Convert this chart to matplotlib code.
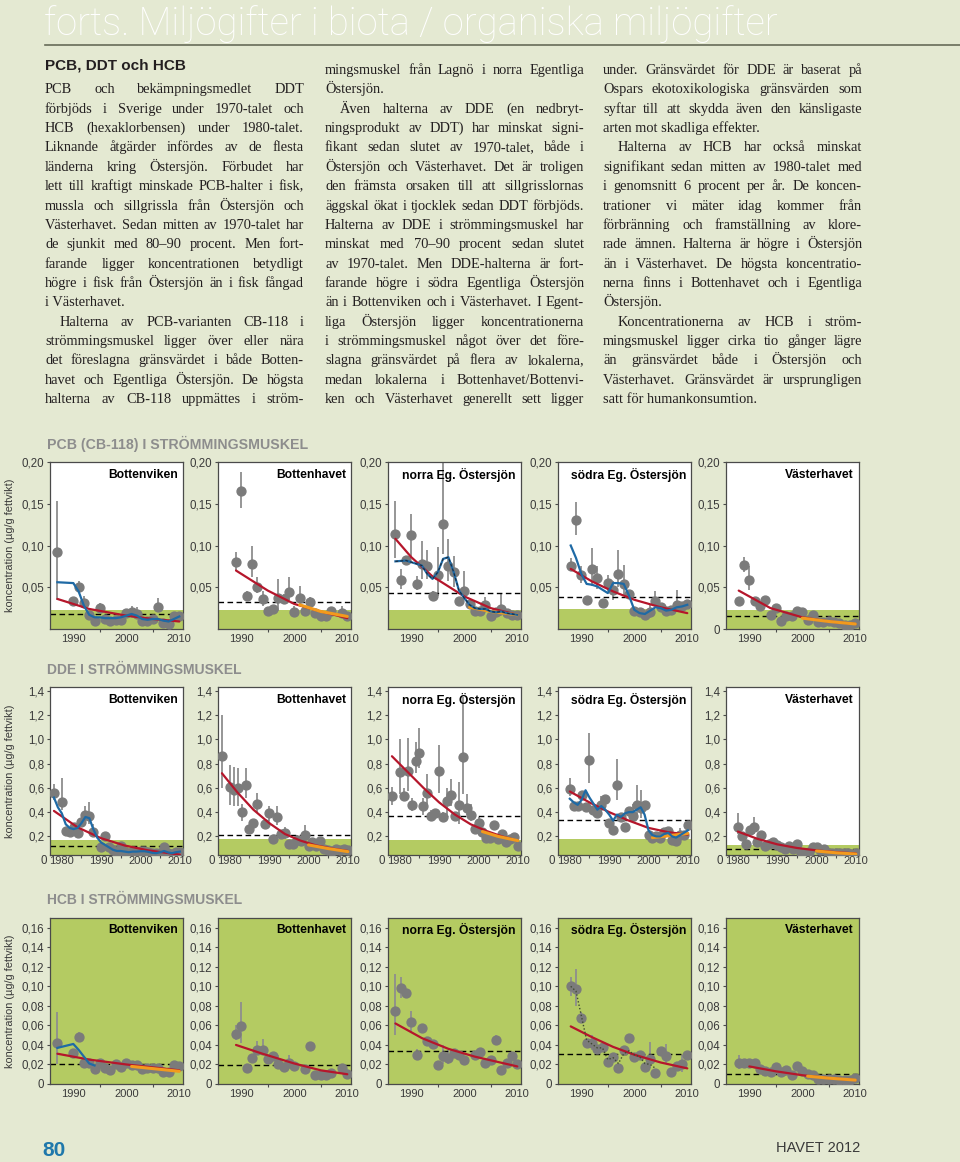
import matplotlib
matplotlib.use("Agg")
import matplotlib.pyplot as plt
import matplotlib.transforms as mtransforms
from matplotlib import font_manager
from matplotlib.lines import Line2D

# ================= data: PCB (CB-118) i strömmingsmuskel =================
pcb_bv_years = [1987, 1990, 1991, 1992, 1993, 1994, 1995, 1996, 1997, 1998, 1999,
                2000, 2001, 2002, 2003, 2004, 2005, 2006, 2007, 2008, 2009, 2010]
pcb_bv_vals = [0.092, 0.034, 0.050, 0.031, 0.017, 0.009, 0.025, 0.012, 0.010, 0.011, 0.011,
               0.019, 0.020, 0.018, 0.010, 0.009, 0.012, 0.026, 0.007, 0.006, 0.015, 0.015]
pcb_bv_err = [(1987, 0.035, 0.153), (1991, 0.044, 0.057), (1992, 0.026, 0.040),
              (1995, 0.020, 0.031), (2001, 0.016, 0.028), (2002, 0.014, 0.026), (2006, 0.021, 0.037)]
pcb_bv_red = [(1987, 0.036), (1993, 0.024), (2000, 0.016), (2005, 0.012), (2010, 0.009)]
pcb_bv_blue = [(1987, 0.056), (1990, 0.055), (1991, 0.045), (1992, 0.028), (1993, 0.017),
               (1994, 0.014), (1995, 0.014), (1996, 0.013), (1997, 0.013), (1998, 0.013),
               (1999, 0.014), (2000, 0.016), (2001, 0.018), (2002, 0.016), (2003, 0.012),
               (2004, 0.011), (2005, 0.012), (2006, 0.012), (2007, 0.010), (2008, 0.009),
               (2009, 0.012), (2010, 0.015)]
pcb_bv_dash, pcb_bv_green = 0.018, 0.023

pcb_bh_years = [1989, 1990, 1991, 1992, 1993, 1994, 1995, 1996, 1997, 1998, 1999,
                2000, 2001, 2002, 2003, 2004, 2005, 2006, 2007, 2009, 2010]
pcb_bh_vals = [0.080, 0.165, 0.039, 0.078, 0.050, 0.036, 0.022, 0.024, 0.037, 0.036, 0.044,
               0.020, 0.037, 0.022, 0.032, 0.019, 0.016, 0.015, 0.022, 0.019, 0.015]
pcb_bh_err = [(1989, 0.070, 0.092), (1990, 0.145, 0.188), (1991, 0.034, 0.046), (1992, 0.062, 0.100),
              (1993, 0.043, 0.062), (1994, 0.028, 0.045), (1997, 0.022, 0.060), (1998, 0.030, 0.042),
              (1999, 0.035, 0.062), (2000, 0.014, 0.028), (2001, 0.030, 0.052), (2003, 0.027, 0.038),
              (2009, 0.015, 0.027)]
pcb_bh_red = [(1989, 0.070), (1995, 0.046), (2000, 0.030), (2005, 0.021), (2010, 0.013)]
pcb_bh_orange = [(2001, 0.029), (2005, 0.021), (2010, 0.015)]
pcb_bh_dash, pcb_bh_green = 0.032, 0.023

pcb_ne_years = list(range(1987, 2011))
pcb_ne_vals = [0.114, 0.059, 0.083, 0.112, 0.054, 0.078, 0.075, 0.039, 0.065, 0.126, 0.076, 0.068,
               0.034, 0.046, 0.030, 0.022, 0.022, 0.029, 0.016, 0.020, 0.024, 0.019, 0.017, 0.017]
pcb_ne_err = [(1987, 0.085, 0.153), (1988, 0.048, 0.072), (1990, 0.085, 0.138), (1991, 0.047, 0.063),
              (1992, 0.060, 0.105), (1993, 0.060, 0.095), (1994, 0.035, 0.045), (1995, 0.040, 0.098),
              (1996, 0.090, 0.210), (1997, 0.058, 0.108), (1998, 0.050, 0.088), (2000, 0.035, 0.070),
              (2004, 0.022, 0.038), (2007, 0.015, 0.042)]
pcb_ne_red = [(1987, 0.108), (1990, 0.086), (1994, 0.063), (2000, 0.039), (2005, 0.025), (2010, 0.017)]
pcb_ne_orange = [(2001, 0.026), (2005, 0.021), (2010, 0.017)]
pcb_ne_blue = [(1987, 0.081), (1989, 0.082), (1991, 0.078), (1992, 0.076), (1993, 0.066), (1994, 0.060),
               (1995, 0.068), (1996, 0.084), (1997, 0.086), (1998, 0.068), (1999, 0.046), (2000, 0.037),
               (2001, 0.029), (2002, 0.025), (2003, 0.024), (2004, 0.024), (2005, 0.021), (2006, 0.020),
               (2007, 0.021), (2008, 0.019), (2009, 0.018), (2010, 0.017)]
pcb_ne_dash, pcb_ne_green = 0.043, 0.023

pcb_se_years = list(range(1988, 2011))
pcb_se_vals = [0.076, 0.131, 0.065, 0.035, 0.072, 0.061, 0.031, 0.055, 0.047, 0.066, 0.054, 0.042,
               0.021, 0.020, 0.017, 0.020, 0.034, 0.026, 0.022, 0.023, 0.029, 0.027, 0.030]
pcb_se_err = [(1988, 0.070, 0.085), (1989, 0.113, 0.152), (1990, 0.055, 0.075), (1992, 0.052, 0.097),
              (1993, 0.048, 0.076), (1995, 0.045, 0.065), (1996, 0.035, 0.058), (1997, 0.050, 0.095),
              (1998, 0.040, 0.077), (2003, 0.013, 0.030), (2004, 0.027, 0.045), (2008, 0.020, 0.047)]
pcb_se_red = [(1988, 0.072), (1992, 0.057), (1996, 0.045), (2000, 0.035), (2005, 0.026), (2010, 0.019)]
pcb_se_blue = [(1988, 0.100), (1989, 0.085), (1990, 0.066), (1991, 0.054), (1992, 0.053), (1993, 0.051),
               (1994, 0.047), (1995, 0.043), (1996, 0.055), (1997, 0.055), (1998, 0.054), (1999, 0.040),
               (2000, 0.023), (2001, 0.019), (2002, 0.018), (2003, 0.022), (2004, 0.026), (2005, 0.025),
               (2006, 0.022), (2007, 0.023), (2008, 0.026), (2009, 0.027), (2010, 0.029)]
pcb_se_dash, pcb_se_green = 0.038, 0.024

pcb_vh_years = list(range(1988, 2011))
pcb_vh_vals = [0.033, 0.077, 0.059, 0.034, 0.028, 0.035, 0.017, 0.025, 0.010, 0.015, 0.015, 0.022,
               0.020, 0.011, 0.017, 0.008, 0.008, 0.009, 0.008, 0.007, 0.005, 0.005, 0.007]
pcb_vh_err = [(1988, 0.029, 0.037), (1989, 0.068, 0.086), (1990, 0.047, 0.075)]
pcb_vh_red = [(1988, 0.046), (1994, 0.025), (2000, 0.014), (2005, 0.009), (2010, 0.006)]
pcb_vh_orange = [(2000, 0.013), (2005, 0.009), (2010, 0.006)]
pcb_vh_dash, pcb_vh_green = 0.015, 0.023

# ================= data: DDE i strömmingsmuskel =================
dde_bv_years = [1978, 1980, 1981, 1982, 1983, 1984, 1985, 1986, 1987, 1988, 1990, 1991, 1992, 1993,
                1994, 1995, 1996, 1997, 1998, 1999, 2000, 2001, 2002, 2003, 2004, 2005, 2006, 2007,
                2008, 2009, 2010]
dde_bv_vals = [0.56, 0.48, 0.245, 0.24, 0.28, 0.23, 0.315, 0.38, 0.37, 0.24, 0.11, 0.20, 0.115, 0.09,
               0.06, 0.12, 0.075, 0.065, 0.08, 0.075, 0.08, 0.08, 0.075, 0.06, 0.06, 0.065, 0.11, 0.06,
               0.055, 0.075, 0.075]
dde_bv_err = [(1978, 0.50, 0.63), (1980, 0.42, 0.68), (1986, 0.33, 0.45), (1987, 0.30, 0.48),
              (1988, 0.21, 0.30)]
dde_bv_red = [(1978, 0.41), (1984, 0.275), (1990, 0.185), (1996, 0.125), (2002, 0.085), (2010, 0.05)]
dde_bv_blue = [(1978, 0.52), (1979, 0.44), (1980, 0.39), (1981, 0.30), (1982, 0.27), (1983, 0.26),
               (1984, 0.27), (1985, 0.31), (1986, 0.36), (1987, 0.35), (1988, 0.26), (1989, 0.19),
               (1990, 0.15), (1991, 0.13), (1992, 0.11), (1993, 0.09), (1994, 0.08), (1995, 0.08),
               (1996, 0.075), (1997, 0.07), (1998, 0.075), (1999, 0.075), (2000, 0.078), (2001, 0.078),
               (2002, 0.073), (2003, 0.065), (2004, 0.062), (2005, 0.07), (2006, 0.08), (2007, 0.068),
               (2008, 0.062), (2009, 0.07), (2010, 0.075)]
dde_bv_dash, dde_bv_green = 0.12, 0.17

dde_bh_years = [1978, 1980, 1981, 1982, 1983, 1984, 1985, 1986, 1987, 1989, 1990, 1991, 1992, 1993,
                1994, 1995, 1996, 1997, 1998, 1999, 2000, 2001, 2002, 2003, 2004, 2005, 2006, 2007,
                2008, 2009, 2010]
dde_bh_vals = [0.865, 0.61, 0.585, 0.595, 0.40, 0.62, 0.26, 0.31, 0.47, 0.30, 0.39, 0.18, 0.36, 0.22,
               0.225, 0.14, 0.135, 0.17, 0.16, 0.215, 0.125, 0.155, 0.12, 0.165, 0.10, 0.09, 0.08, 0.10,
               0.085, 0.10, 0.085]
dde_bh_err = [(1978, 0.60, 1.20), (1980, 0.46, 0.79), (1981, 0.45, 0.77), (1982, 0.45, 0.76),
              (1983, 0.33, 0.47), (1984, 0.52, 0.76), (1987, 0.40, 0.56), (1990, 0.33, 0.45),
              (1992, 0.29, 0.45), (1994, 0.18, 0.28), (1997, 0.13, 0.21), (1999, 0.17, 0.29)]
dde_bh_red = [(1978, 0.72), (1982, 0.56), (1986, 0.42), (1990, 0.31), (1994, 0.22), (1998, 0.165),
              (2002, 0.125), (2006, 0.10), (2010, 0.08)]
dde_bh_orange = [(2000, 0.13), (2005, 0.10), (2010, 0.075)]
dde_bh_dash, dde_bh_green = 0.21, 0.18

dde_ne_years = [1978] + list(range(1980, 2011))
dde_ne_vals = [0.53, 0.73, 0.53, 0.74, 0.455, 0.82, 0.885, 0.45, 0.56, 0.37, 0.39, 0.74, 0.36, 0.49,
               0.545, 0.37, 0.455, 0.85, 0.435, 0.38, 0.265, 0.31, 0.24, 0.185, 0.19, 0.29, 0.18, 0.22,
               0.15, 0.18, 0.195, 0.12]
dde_ne_err = [(1978, 0.46, 0.61), (1980, 0.55, 1.00), (1981, 0.49, 0.60), (1982, 0.57, 1.01),
              (1983, 0.41, 0.52), (1984, 0.72, 0.98), (1985, 0.76, 1.09), (1986, 0.38, 0.52),
              (1987, 0.46, 0.71), (1988, 0.33, 0.42), (1990, 0.56, 0.95), (1991, 0.33, 0.40),
              (1992, 0.38, 0.60), (1993, 0.45, 0.67), (1995, 0.30, 0.65), (1996, 0.55, 1.35),
              (1997, 0.38, 0.55), (1998, 0.33, 0.47), (1999, 0.23, 0.30), (2000, 0.25, 0.36),
              (2004, 0.25, 0.32)]
dde_ne_red = [(1978, 0.86), (1982, 0.73), (1986, 0.60), (1990, 0.48), (1994, 0.38), (1998, 0.30),
              (2002, 0.245), (2006, 0.20), (2010, 0.165)]
dde_ne_orange = [(2001, 0.24), (2005, 0.20), (2010, 0.165)]
dde_ne_dash, dde_ne_green = 0.37, 0.17

dde_se_years = list(range(1980, 2011))
dde_se_vals = [0.59, 0.45, 0.45, 0.54, 0.445, 0.83, 0.42, 0.395, 0.46, 0.51, 0.31, 0.25, 0.625, 0.36,
               0.28, 0.41, 0.37, 0.455, 0.43, 0.455, 0.215, 0.19, 0.20, 0.185, 0.24, 0.245, 0.17, 0.16,
               0.21, 0.215, 0.295]
dde_se_err = [(1980, 0.53, 0.68), (1985, 0.64, 1.05), (1988, 0.38, 0.53), (1992, 0.50, 0.84),
              (1996, 0.33, 0.47), (1997, 0.38, 0.62), (1998, 0.35, 0.58), (2001, 0.17, 0.23),
              (2003, 0.15, 0.24), (2008, 0.16, 0.27)]
dde_se_red = [(1980, 0.57), (1985, 0.48), (1990, 0.40), (1995, 0.33), (2000, 0.27), (2005, 0.235),
              (2010, 0.215)]
dde_se_orange = [(2001, 0.19), (2005, 0.205), (2010, 0.225)]
dde_se_blue = [(1980, 0.51), (1981, 0.48), (1982, 0.46), (1983, 0.50), (1984, 0.58), (1985, 0.52),
               (1986, 0.47), (1987, 0.42), (1988, 0.45), (1989, 0.42), (1990, 0.38), (1991, 0.33),
               (1992, 0.38), (1993, 0.36), (1994, 0.39), (1995, 0.40), (1996, 0.40), (1997, 0.42),
               (1998, 0.44), (1999, 0.38), (2000, 0.25), (2001, 0.21), (2002, 0.20), (2003, 0.20),
               (2004, 0.22), (2005, 0.23), (2006, 0.20), (2007, 0.19), (2008, 0.21), (2009, 0.23),
               (2010, 0.25)]
dde_se_dash, dde_se_green = 0.335, 0.18

dde_vh_years = list(range(1980, 2011))
dde_vh_vals = [0.275, 0.20, 0.14, 0.25, 0.28, 0.155, 0.21, 0.125, 0.135, 0.15, 0.13, 0.115, 0.10, 0.12,
               0.10, 0.14, 0.065, 0.065, 0.075, 0.115, 0.11, 0.085, 0.095, 0.065, 0.06, 0.06, 0.06,
               0.065, 0.06, 0.055, 0.06]
dde_vh_err = [(1980, 0.22, 0.39), (1984, 0.22, 0.36), (1986, 0.17, 0.24)]
dde_vh_red = [(1980, 0.24), (1985, 0.18), (1990, 0.135), (1995, 0.105), (2000, 0.085), (2005, 0.07),
              (2010, 0.06)]
dde_vh_orange = [(2000, 0.08), (2005, 0.065), (2010, 0.055)]
dde_vh_dash, dde_vh_green = 0.10, 0.13

# ================= data: HCB i strömmingsmuskel =================
hcb_bv_years = [1987] + list(range(1990, 2011))
hcb_bv_vals = [0.042, 0.032, 0.048, 0.022, 0.021, 0.015, 0.021, 0.016, 0.014, 0.020, 0.017, 0.022,
               0.019, 0.019, 0.015, 0.016, 0.016, 0.016, 0.012, 0.012, 0.019, 0.018]
hcb_bv_err = [(1987, 0.020, 0.074), (1991, 0.043, 0.053)]
hcb_bv_red = [(1987, 0.031), (1993, 0.025), (2000, 0.020), (2005, 0.017), (2010, 0.014)]
hcb_bv_orange = [(2001, 0.018), (2010, 0.013)]
hcb_bv_blue = [(1987, 0.037), (1990, 0.041), (1991, 0.035), (1992, 0.028), (1993, 0.021), (1994, 0.019)]
hcb_bv_dash = 0.0207

hcb_bh_years = [1989, 1990, 1991, 1992, 1993, 1994, 1995, 1996, 1997, 1998, 1999, 2000, 2002, 2003,
                2004, 2005, 2006, 2007, 2009, 2010]
hcb_bh_vals = [0.051, 0.059, 0.016, 0.027, 0.035, 0.035, 0.026, 0.029, 0.020, 0.017, 0.022, 0.018,
               0.015, 0.039, 0.009, 0.009, 0.009, 0.011, 0.016, 0.010]
hcb_bh_err = [(1989, 0.045, 0.060), (1990, 0.042, 0.084), (1993, 0.030, 0.044), (1994, 0.030, 0.046),
              (1997, 0.017, 0.030), (1999, 0.018, 0.030)]
hcb_bh_red = [(1989, 0.040), (1994, 0.031), (2000, 0.021), (2005, 0.014), (2010, 0.010)]
hcb_bh_dash = 0.0198

hcb_ne_years = list(range(1987, 2001)) + list(range(2002, 2011))
hcb_ne_vals = [0.075, 0.098, 0.093, 0.064, 0.030, 0.057, 0.044, 0.041, 0.019, 0.029, 0.027, 0.032,
               0.030, 0.025, 0.030, 0.033, 0.021, 0.025, 0.045, 0.014, 0.022, 0.029, 0.020]
hcb_ne_err = [(1987, 0.050, 0.113), (1988, 0.088, 0.110), (1990, 0.053, 0.075), (1991, 0.025, 0.036),
              (1996, 0.020, 0.040), (1997, 0.020, 0.035), (2006, 0.040, 0.050)]
hcb_ne_red = [(1987, 0.062), (1992, 0.047), (1997, 0.036), (2002, 0.028), (2006, 0.023), (2010, 0.018)]
hcb_ne_dash = 0.034

hcb_se_years = list(range(1988, 2011))
hcb_se_vals = [0.100, 0.097, 0.068, 0.042, 0.042, 0.036, 0.038, 0.023, 0.028, 0.016, 0.035, 0.047,
               0.028, 0.030, 0.017, 0.026, 0.011, 0.034, 0.029, 0.012, 0.018, 0.020, 0.030]
hcb_se_err = [(1988, 0.090, 0.110), (1989, 0.080, 0.118), (1990, 0.063, 0.074), (1992, 0.035, 0.050),
              (2003, 0.016, 0.043), (2006, 0.020, 0.041), (2009, 0.012, 0.030)]
hcb_se_red = [(1988, 0.059), (1992, 0.048), (1996, 0.038), (2000, 0.030), (2005, 0.022), (2010, 0.016)]
hcb_se_dotted = [(1988, 0.100), (1989, 0.095), (1990, 0.070), (1991, 0.045), (1992, 0.041), (1993, 0.037),
                 (1994, 0.037), (1995, 0.025), (1996, 0.027), (1997, 0.021), (1998, 0.031), (1999, 0.034),
                 (2000, 0.030), (2001, 0.028), (2002, 0.021), (2003, 0.020), (2004, 0.016)]
hcb_se_dash = 0.031

hcb_vh_years = list(range(1988, 2011))
hcb_vh_vals = [0.021, 0.022, 0.022, 0.022, 0.015, 0.013, 0.012, 0.017, 0.012, 0.014, 0.009, 0.018,
               0.013, 0.010, 0.009, 0.005, 0.005, 0.005, 0.005, 0.004, 0.004, 0.004, 0.006]
hcb_vh_err = [(1988, 0.015, 0.030)]
hcb_vh_red = [(1990, 0.018), (1995, 0.013), (2000, 0.009), (2005, 0.006), (2010, 0.004)]
hcb_vh_orange = [(2001, 0.008), (2005, 0.006), (2010, 0.004)]
hcb_vh_dash = 0.010

STATIONS = ["Bottenviken", "Bottenhavet", "norra Eg. Östersjön", "södra Eg. Östersjön", "Västerhavet"]
SECTION_TITLES = ["PCB (CB-118) I STRÖMMINGSMUSKEL", "DDE I STRÖMMINGSMUSKEL", "HCB I STRÖMMINGSMUSKEL"]
YLABEL = "koncentration (µg/g fettvikt)"
TITLE = "forts. Miljögifter i biota / organiska miljögifter"

# ================= brödtext (j = marginaljusterad, r = vänster, i = indrag) =================
HEAD1 = "PCB, DDT och HCB"
col1_lines = [
    ("PCB och bekämpningsmedlet DDT", "j"),
    ("förbjöds i Sverige under 1970-talet och", "j"),
    ("HCB (hexaklorbensen) under 1980-talet.", "j"),
    ("Liknande åtgärder infördes av de flesta", "j"),
    ("länderna kring Östersjön. Förbudet har", "j"),
    ("lett till kraftigt minskade PCB-halter i fisk,", "j"),
    ("mussla och sillgrissla från Östersjön och", "j"),
    ("Västerhavet. Sedan mitten av 1970-talet har", "j"),
    ("de sjunkit med 80–90 procent. Men fort-", "j"),
    ("farande ligger koncentrationen betydligt", "j"),
    ("högre i fisk från Östersjön än i fisk fångad", "j"),
    ("i Västerhavet.", "r"),
    ("Halterna av PCB-varianten CB-118 i", "i"),
    ("strömmingsmuskel ligger över eller nära", "j"),
    ("det föreslagna gränsvärdet i både Botten-", "j"),
    ("havet och Egentliga Östersjön. De högsta", "j"),
    ("halterna av CB-118 uppmättes i ström-", "j"),
]
col2_lines = [
    ("mingsmuskel från Lagnö i norra Egentliga", "j"),
    ("Östersjön.", "r"),
    ("Även halterna av DDE (en nedbryt-", "i"),
    ("ningsprodukt av DDT) har minskat signi-", "j"),
    ("fikant sedan slutet av 1970-talet, både i", "j"),
    ("Östersjön och Västerhavet. Det är troligen", "j"),
    ("den främsta orsaken till att sillgrisslornas", "j"),
    ("äggskal ökat i tjocklek sedan DDT förbjöds.", "j"),
    ("Halterna av DDE i strömmingsmuskel har", "j"),
    ("minskat med 70–90 procent sedan slutet", "j"),
    ("av 1970-talet. Men DDE-halterna är fort-", "j"),
    ("farande högre i södra Egentliga Östersjön", "j"),
    ("än i Bottenviken och i Västerhavet. I Egent-", "j"),
    ("liga Östersjön ligger koncentrationerna", "j"),
    ("i strömmingsmuskel något över det före-", "j"),
    ("slagna gränsvärdet på flera av lokalerna,", "j"),
    ("medan lokalerna i Bottenhavet/Bottenvi-", "j"),
    ("ken och Västerhavet generellt sett ligger", "j"),
]
col3_lines = [
    ("under. Gränsvärdet för DDE är baserat på", "j"),
    ("Ospars ekotoxikologiska gränsvärden som", "j"),
    ("syftar till att skydda även den känsligaste", "j"),
    ("arten mot skadliga effekter.", "r"),
    ("Halterna av HCB har också minskat", "i"),
    ("signifikant sedan mitten av 1980-talet med", "j"),
    ("i genomsnitt 6 procent per år. De koncen-", "j"),
    ("trationer vi mäter idag kommer från", "j"),
    ("förbränning och framställning av klore-", "j"),
    ("rade ämnen. Halterna är högre i Östersjön", "j"),
    ("än i Västerhavet. De högsta koncentratio-", "j"),
    ("nerna finns i Bottenhavet och i Egentliga", "j"),
    ("Östersjön.", "r"),
    ("Koncentrationerna av HCB i ström-", "i"),
    ("mingsmuskel ligger cirka tio gånger lägre", "j"),
    ("än gränsvärdet både i Östersjön och", "j"),
    ("Västerhavet. Gränsvärdet är ursprungligen", "j"),
    ("satt för humankonsumtion.", "r"),
]

# ================= stil =================
W, H = 960, 1162
BG = "#e4e9d2"
GREEN = "#b4cb62"
INK = "#231f20"
TICK = "#3a3a3a"
SPINE = "#4a4a4a"
PT = "#7b7b7b"
ERR = "#8e8e8e"
RED = "#b5162b"
BLUE = "#1f6aa5"
ORANGE = "#f29a1d"

names = {f.name for f in font_manager.fontManager.ttflist}
SANS = "Liberation Sans" if "Liberation Sans" in names else "DejaVu Sans"
SERIF = "Liberation Serif" if "Liberation Serif" in names else "DejaVu Serif"
LIGHT = "Roboto" if "Roboto" in names else SANS

fig = plt.figure(figsize=(W / 100, H / 100), dpi=100, facecolor=BG)
renderer = fig.canvas.get_renderer()


def px(x, y):
    return x / W, 1 - y / H


def text_width(s, **kw):
    t = fig.text(0, 0, s, **kw)
    w = t.get_window_extent(renderer).width
    t.remove()
    return w


def fit_size(s, target, **kw):
    return 10 * target / text_width(s, fontsize=10, **kw)


# ---- sidhuvud ----
tsize = fit_size(TITLE, 735, family=LIGHT, weight="light")
fig.text(*px(44, 35), TITLE, fontsize=tsize, family=LIGHT, weight="light", color="white", va="baseline")
fig.add_artist(Line2D([45 / W, 1.0], [1 - 45 / H] * 2, color="#676b58", lw=1.2))

# ---- brödtext ----
COL_X = [45, 325, 603]
COL_W = 259
INDENT = 15
MIN_SPACE = 2.6  # px vid 10 pt


def words_width(s, size):
    return sum(text_width(w, fontsize=size, family=SERIF) for w in s.split(" "))


# storlek för varje justerad rad om mellanrummen vore smala; brödtexten får medianen,
# rader som inte ryms krymps lite
line_fit = {}
for col in (col1_lines, col2_lines, col3_lines):
    for s, m in col:
        if m == "r":
            continue
        avail = COL_W - (INDENT if m == "i" else 0)
        need = words_width(s, 10) + MIN_SPACE * (len(s.split(" ")) - 1)
        line_fit[s] = 10 * avail / need
fits = sorted(line_fit.values())
BODY_SIZE = min(fits[len(fits) // 3], 10.4)


def body_line(x0, yc, s, mode):
    size = min(BODY_SIZE, line_fit.get(s, BODY_SIZE))
    kw = dict(fontsize=size, family=SERIF, color=INK, va="baseline", ha="left")
    y = yc + 4
    width = COL_W
    if mode == "i":
        x0 += INDENT
        width -= INDENT
    if mode == "r":
        fig.text(*px(x0, y), s, **kw)
        return
    words = s.split(" ")
    ws = [text_width(w, **kw) for w in words]
    gap = (width - sum(ws)) / (len(words) - 1)
    x = x0
    for w, wpx in zip(words, ws):
        fig.text(*px(x, y), w, **kw)
        x += wpx + gap


hsize = fit_size(HEAD1, 140, family=SANS, weight="bold")
fig.text(*px(45, 66), HEAD1, fontsize=hsize, family=SANS, weight="bold", color=INK, va="center")
for k, (s, m) in enumerate(col1_lines):
    body_line(COL_X[0], 89.4 + 19.36 * k, s, m)
for k, (s, m) in enumerate(col2_lines):
    body_line(COL_X[1], 70 + 19.36 * k, s, m)
for k, (s, m) in enumerate(col3_lines):
    body_line(COL_X[2], 70 + 19.36 * k, s, m)

# ---- diagram ----
LEFTS = [50, 218, 388, 558, 726]
PW = 133


def panel(years, vals, err, red, dash, green=None, orange=None, blue=None, blue_dashed=False,
          dotted=None, zero=False):
    return dict(years=years, vals=vals, err=err, red=red, dash=dash, green=green, orange=orange,
                blue=blue, blue_dashed=blue_dashed, dotted=dotted, zero=zero)


ROWS = [
    dict(top=462, bottom=629, xlim=(1985.6, 2010.7), ylim=(0, 0.20), xticks=[1990, 2000, 2010],
         yticks=[0.05, 0.10, 0.15, 0.20], fmt="{:.2f}", full_green=False, xpad=3.4, head_y=444,
         head_w=258, panels=[
            panel(pcb_bv_years, pcb_bv_vals, pcb_bv_err, pcb_bv_red, pcb_bv_dash, pcb_bv_green, blue=pcb_bv_blue),
            panel(pcb_bh_years, pcb_bh_vals, pcb_bh_err, pcb_bh_red, pcb_bh_dash, pcb_bh_green, orange=pcb_bh_orange),
            panel(pcb_ne_years, pcb_ne_vals, pcb_ne_err, pcb_ne_red, pcb_ne_dash, pcb_ne_green,
                  orange=pcb_ne_orange, blue=pcb_ne_blue, blue_dashed=True),
            panel(pcb_se_years, pcb_se_vals, pcb_se_err, pcb_se_red, pcb_se_dash, pcb_se_green, blue=pcb_se_blue),
            panel(pcb_vh_years, pcb_vh_vals, pcb_vh_err, pcb_vh_red, pcb_vh_dash, pcb_vh_green,
                  orange=pcb_vh_orange, zero=True),
         ]),
    dict(top=687, bottom=855, xlim=(1977.0, 2010.8), ylim=(0.047, 1.43), xticks=[1980, 1990, 2000, 2010],
         yticks=[0.2, 0.4, 0.6, 0.8, 1.0, 1.2, 1.4], fmt="{:.1f}", full_green=False, xpad=1.0, head_y=670,
         head_w=195, zero_text=True, panels=[
            panel(dde_bv_years, dde_bv_vals, dde_bv_err, dde_bv_red, dde_bv_dash, dde_bv_green, blue=dde_bv_blue),
            panel(dde_bh_years, dde_bh_vals, dde_bh_err, dde_bh_red, dde_bh_dash, dde_bh_green, orange=dde_bh_orange),
            panel(dde_ne_years, dde_ne_vals, dde_ne_err, dde_ne_red, dde_ne_dash, dde_ne_green, orange=dde_ne_orange),
            panel(dde_se_years, dde_se_vals, dde_se_err, dde_se_red, dde_se_dash, dde_se_green,
                  orange=dde_se_orange, blue=dde_se_blue),
            panel(dde_vh_years, dde_vh_vals, dde_vh_err, dde_vh_red, dde_vh_dash, dde_vh_green, orange=dde_vh_orange),
         ]),
    dict(top=918, bottom=1084, xlim=(1985.6, 2010.7), ylim=(0, 0.17), xticks=[1990, 2000, 2010],
         yticks=[0, 0.02, 0.04, 0.06, 0.08, 0.10, 0.12, 0.14, 0.16], fmt="{:.2f}", full_green=True, xpad=3.4,
         head_y=900, head_w=195, panels=[
            panel(hcb_bv_years, hcb_bv_vals, hcb_bv_err, hcb_bv_red, hcb_bv_dash, orange=hcb_bv_orange, blue=hcb_bv_blue),
            panel(hcb_bh_years, hcb_bh_vals, hcb_bh_err, hcb_bh_red, hcb_bh_dash),
            panel(hcb_ne_years, hcb_ne_vals, hcb_ne_err, hcb_ne_red, hcb_ne_dash),
            panel(hcb_se_years, hcb_se_vals, hcb_se_err, hcb_se_red, hcb_se_dash, dotted=hcb_se_dotted),
            panel(hcb_vh_years, hcb_vh_vals, hcb_vh_err, hcb_vh_red, hcb_vh_dash, orange=hcb_vh_orange),
         ]),
]


def ylab(v, fmt):
    return "0" if v == 0 else fmt.format(v).replace(".", ",")


for ri, row in enumerate(ROWS):
    top, bottom = row["top"], row["bottom"]
    # rubrik och y-axeltext
    hs = fit_size(SECTION_TITLES[ri], row["head_w"], family=SANS, weight="bold")
    fig.text(*px(47, row["head_y"]), SECTION_TITLES[ri], fontsize=hs, family=SANS, weight="bold",
             color="#8d8d8d", va="center")
    fig.text(*px(10, (top + bottom) / 2), YLABEL, rotation=90, fontsize=7.9, family=SANS,
             color=TICK, ha="center", va="center")

    for si, p in enumerate(row["panels"]):
        ax = fig.add_axes([LEFTS[si] / W, 1 - bottom / H, PW / W, (bottom - top) / H])
        y0, y1 = row["ylim"]
        ax.set_xlim(*row["xlim"])
        ax.set_ylim(y0, y1)
        if row["full_green"]:
            ax.set_facecolor(GREEN)
        else:
            ax.set_facecolor("white")
            ax.axhspan(y0, p["green"], color=GREEN, lw=0, zorder=0)

        for sp in ax.spines.values():
            sp.set_color(SPINE)
            sp.set_linewidth(0.9)

        # x-axel
        xt = row["xticks"]
        ax.set_xticks(xt, labels=[str(t) for t in xt], fontfamily=SANS, fontsize=8.0, color=TICK)
        ax.set_xticks([t + 5 for t in xt[:-1]], minor=True)
        ax.tick_params(axis="x", which="major", length=0, pad=row["xpad"])
        ax.tick_params(axis="x", which="minor", length=2.5, width=0.8, color=SPINE, direction="out")

        # y-axel
        yt = list(row["yticks"])
        if p["zero"]:
            yt = [0] + yt
        ax.set_yticks(yt, labels=[ylab(v, row["fmt"]) for v in yt], fontfamily=SANS, fontsize=8.3, color=TICK)
        ax.tick_params(axis="y", length=2.5, width=0.8, color=SPINE, pad=1.5, direction="out")
        ax.tick_params(axis="y", which="minor", left=False)
        if row.get("zero_text"):
            tr = mtransforms.blended_transform_factory(ax.transAxes, ax.transData)
            ax.annotate("0", xy=(0, 0), xycoords=tr, xytext=(-2, 0), textcoords="offset points",
                        ha="right", va="center", fontsize=8.3, family=SANS, color=TICK, annotation_clip=False)

        # data
        ax.axhline(p["dash"], color="black", lw=1.0, ls=(0, (4, 2.5)), zorder=2.5)
        for yr, lo, hi in p["err"]:
            ax.vlines(yr, lo, hi, color=ERR, lw=1.3, zorder=2)
        ax.plot(p["years"], p["vals"], "o", ms=6.4, color=PT, mec=PT, zorder=3)

        xs, ys = zip(*p["red"])
        ax.plot(xs, ys, color=RED, lw=1.6, zorder=4, solid_capstyle="round")
        if p["orange"]:
            xs, ys = zip(*p["orange"])
            ax.plot(xs, ys, color=ORANGE, lw=2.2, zorder=4.5, solid_capstyle="round")
        if p["blue"]:
            xs, ys = zip(*p["blue"])
            ax.plot(xs, ys, color=BLUE, lw=1.6, zorder=5)
            if p["blue_dashed"]:
                ax.plot(xs, ys, color="#1c2a3a", lw=0.8, ls=(0, (2.5, 2)), zorder=5.5)
        if p["dotted"]:
            xs, ys = zip(*p["dotted"])
            ax.plot(xs, ys, color="#3e4a30", lw=1.0, ls=(0, (1, 1.5)), zorder=5)

        ax.text(0.962, 0.925, STATIONS[si], transform=ax.transAxes, ha="right", va="center",
                fontsize=8.7, family=SANS, weight="bold", color="black", zorder=6)

# ---- sidfot ----
fig.text(*px(42, 1150), "80", fontsize=15, family=SANS, weight="bold", color="#1f78ab", va="center")
fs = fit_size("HAVET 2012", 84, family=SANS)
fig.text(*px(776, 1148), "HAVET 2012", fontsize=fs, family=SANS, color="#3a3a3a", va="center")

fig.savefig("out.png", dpi=100, facecolor=BG)
